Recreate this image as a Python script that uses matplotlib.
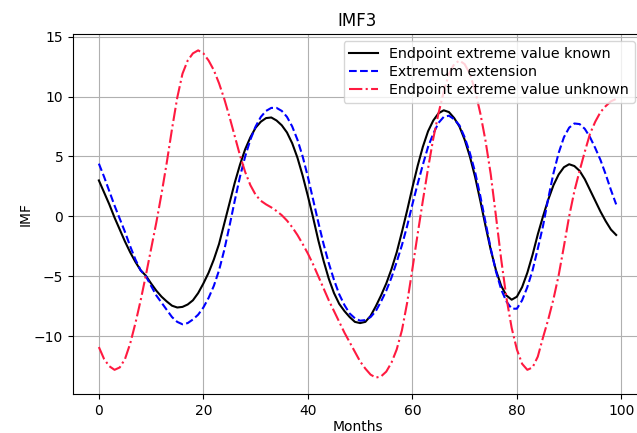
import matplotlib
matplotlib.use("Agg")
import matplotlib.pyplot as plt
import numpy as np

# Monate 0..99
months = np.arange(100)

# Endpunkt-Extremwert bekannt
known = [
    3.0, 2.0, 1.0, -0.1, -1.1, -2.1, -3.0, -3.8, -4.5, -4.95,
    -5.6, -6.2, -6.7, -7.1, -7.45, -7.6, -7.55, -7.35, -7.0, -6.4,
    -5.6, -4.7, -3.6, -2.3, -0.6, 1.1, 2.8, 4.3, 5.6, 6.6,
    7.4, 7.9, 8.2, 8.25, 8.0, 7.6, 7.0, 6.1, 4.9, 3.4,
    1.7, -0.1, -2.0, -3.7, -5.2, -6.4, -7.3, -7.9, -8.4, -8.8,
    -8.9, -8.8, -8.3, -7.5, -6.6, -5.6, -4.4, -3.0, -1.3, 0.5,
    2.4, 4.2, 5.8, 7.1, 8.0, 8.6, 8.85, 8.7, 8.2, 7.5,
    6.4, 5.0, 3.3, 1.3, -0.8, -2.8, -4.5, -5.8, -6.6, -6.95,
    -6.7, -5.9, -4.7, -3.2, -1.5, 0.0, 1.4, 2.6, 3.5, 4.1,
    4.35, 4.2, 3.8, 3.1, 2.2, 1.3, 0.4, -0.4, -1.1, -1.55,
]

# Extremum-Erweiterung
extension = [
    4.4, 3.3, 2.1, 0.9, -0.2, -1.3, -2.5, -3.6, -4.5, -5.0,
    -5.8, -6.6, -7.2, -7.8, -8.4, -8.8, -9.0, -8.9, -8.6, -8.2,
    -7.6, -6.8, -5.8, -4.5, -2.8, -0.8, 1.3, 3.3, 5.0, 6.4,
    7.5, 8.3, 8.8, 9.05, 9.05, 8.8, 8.3, 7.5, 6.4, 5.0,
    3.3, 1.4, -0.5, -2.3, -3.9, -5.3, -6.5, -7.4, -8.1, -8.5,
    -8.7, -8.65, -8.4, -7.9, -7.1, -6.2, -5.1, -3.8, -2.4, -0.8,
    1.0, 2.7, 4.3, 5.8, 6.9, 7.8, 8.3, 8.4, 8.1, 7.6,
    6.6, 5.3, 3.7, 1.7, -0.5, -2.7, -4.6, -6.1, -7.1, -7.7,
    -7.7, -7.0, -5.9, -4.5, -2.7, -0.8, 1.5, 3.6, 5.3, 6.6,
    7.4, 7.75, 7.7, 7.3, 6.6, 5.7, 4.7, 3.5, 2.2, 1.0,
]

# Endpunkt-Extremwert unbekannt
unknown = [
    -10.9, -11.9, -12.5, -12.8, -12.6, -11.9, -10.6, -8.9, -7.0, -4.9,
    -2.7, -0.5, 1.9, 4.5, 7.3, 9.9, 11.9, 13.0, 13.6, 13.85,
    13.6, 13.0, 12.2, 11.1, 9.8, 8.3, 6.7, 5.1, 3.7, 2.6,
    1.8, 1.3, 1.0, 0.75, 0.45, 0.1, -0.35, -0.9, -1.55, -2.3,
    -3.1, -4.0, -5.0, -6.0, -7.0, -7.9, -8.8, -9.7, -10.5, -11.3,
    -12.1, -12.7, -13.2, -13.45, -13.35, -12.95, -12.2, -11.1, -9.5, -7.2,
    -4.4, -1.5, 1.3, 4.0, 6.5, 8.6, 10.4, 11.9, 12.7, 13.0,
    12.7, 11.9, 10.5, 8.6, 6.3, 3.5, 0.0, -3.6, -6.8, -9.3,
    -11.1, -12.3, -12.8, -12.6, -11.7, -10.1, -8.6, -6.9, -4.9, -2.5,
    0.0, 2.1, 3.8, 5.4, 6.9, 7.9, 8.7, 9.2, 9.6, 9.8,
]


def main():
    fig = plt.figure(figsize=(6.37, 4.33), dpi=100)
    ax = fig.add_axes([0.1146, 0.0901, 0.8933, 0.8314])

    ax.plot(months, known, "k-", label="Endpoint extreme value known")
    ax.plot(months, extension, "b--", label="Extremum extension")
    ax.plot(months, unknown, "-.", color="#ff1a40",
            label="Endpoint extreme value unknown")

    ax.grid(True)
    ax.set_title("IMF3")
    ax.set_xlabel("Months", labelpad=1.5)
    ax.set_ylabel("IMF", labelpad=1)
    ax.legend(loc="upper right", fontsize=10.3, labelspacing=0.3)

    fig.savefig("out.png", dpi=100)


if __name__ == "__main__":
    main()
